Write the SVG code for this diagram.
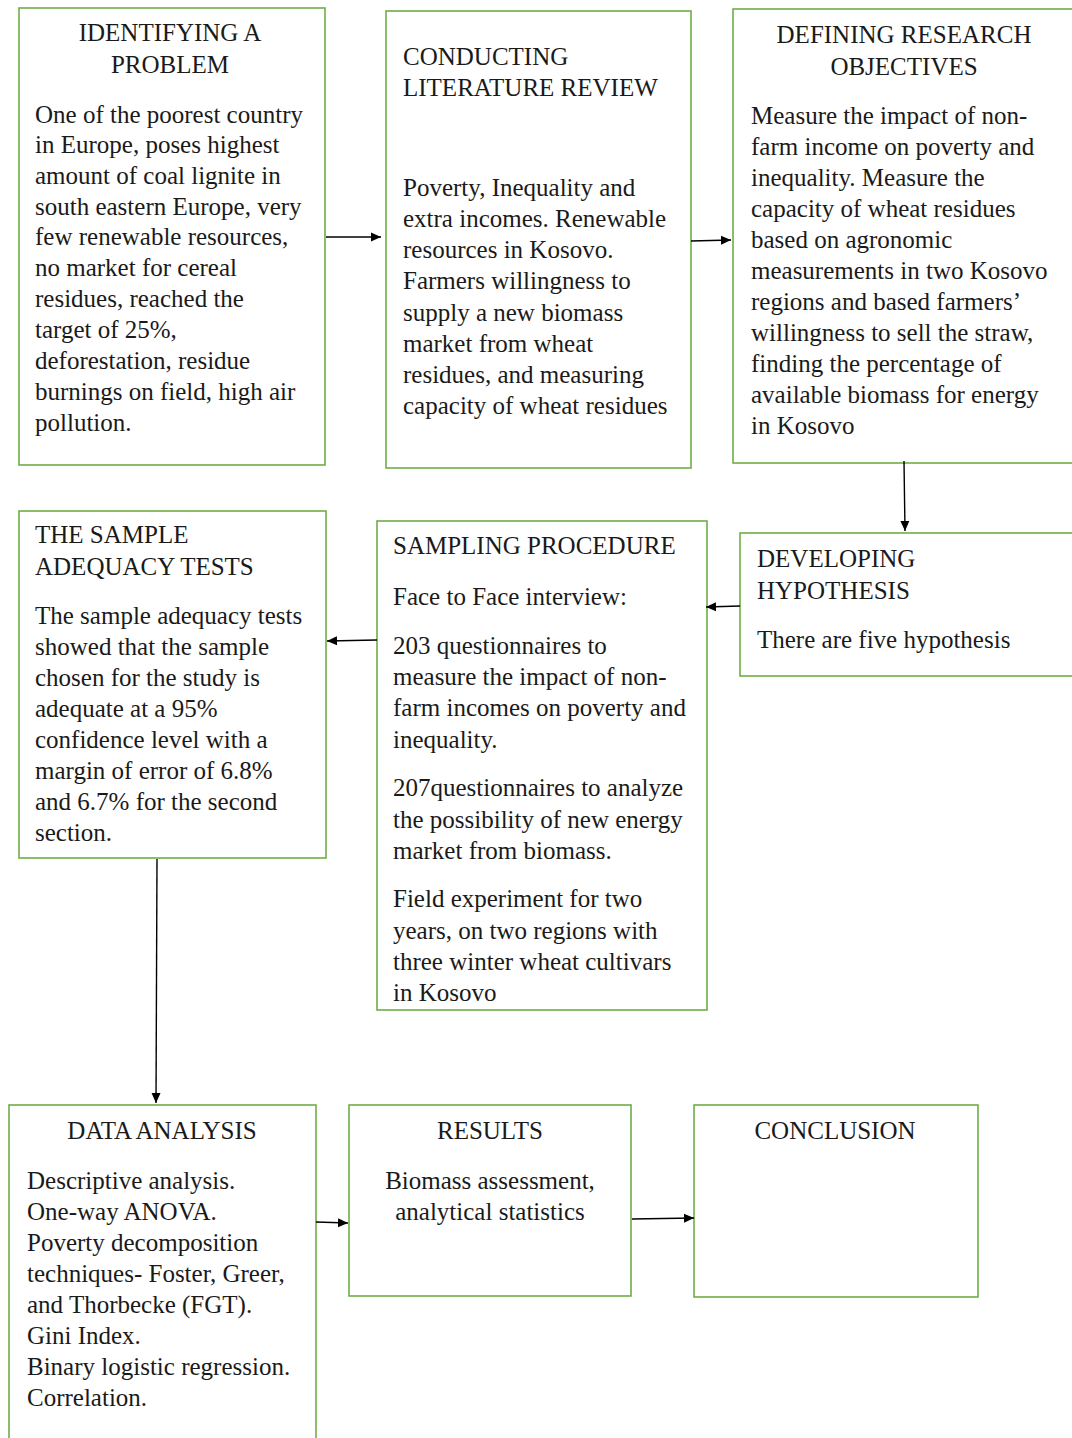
<svg xmlns="http://www.w3.org/2000/svg" width="1072" height="1438" viewBox="0 0 1072 1438">
<style>
.box{fill:#fff;stroke:#70AD47;stroke-width:1.6}
text{font-family:'Liberation Serif',Tinos,'Times New Roman','DejaVu Serif',serif;font-size:25px;fill:#1a1a1a}
.c{text-anchor:middle}
.conn line{stroke:#000;stroke-width:1.4}
</style>
<defs>
<marker id="ah" viewBox="0 0 10 10" refX="10" refY="5" markerWidth="10" markerHeight="10" markerUnits="userSpaceOnUse" orient="auto">
<path d="M0,0.5 L10,5 L0,9.5 Z" fill="#000"/>
</marker>
</defs>
<rect width="1072" height="1438" fill="#fff"/>

<g id="identifying">
<rect class="box" x="19" y="8" width="306" height="457"/>
<text class="c" x="170" y="41">IDENTIFYING A</text>
<text class="c" x="170" y="73">PROBLEM</text>
<text x="35" y="123">One of the poorest country</text>
<text x="35" y="153">in Europe, poses highest</text>
<text x="35" y="184">amount of coal lignite in</text>
<text x="35" y="215">south eastern Europe, very</text>
<text x="35" y="245">few renewable resources,</text>
<text x="35" y="276">no market for cereal</text>
<text x="35" y="307">residues, reached the</text>
<text x="35" y="338">target of 25%,</text>
<text x="35" y="369">deforestation, residue</text>
<text x="35" y="400">burnings on field, high air</text>
<text x="35" y="431">pollution.</text>
</g>

<g id="literature">
<rect class="box" x="386" y="11" width="305" height="457"/>
<text x="403" y="65">CONDUCTING</text>
<text x="403" y="96">LITERATURE REVIEW</text>
<text x="403" y="196">Poverty, Inequality and</text>
<text x="403" y="227">extra incomes. Renewable</text>
<text x="403" y="258">resources in Kosovo.</text>
<text x="403" y="289">Farmers willingness to</text>
<text x="403" y="321">supply a new biomass</text>
<text x="403" y="352">market from wheat</text>
<text x="403" y="383">residues, and measuring</text>
<text x="403" y="414">capacity of wheat residues</text>
</g>

<g id="objectives">
<rect class="box" x="733" y="9" width="350" height="454"/>
<text class="c" x="904" y="43">DEFINING RESEARCH</text>
<text class="c" x="904" y="75">OBJECTIVES</text>
<text x="751" y="124">Measure the impact of non-</text>
<text x="751" y="155">farm income on poverty and</text>
<text x="751" y="186">inequality. Measure the</text>
<text x="751" y="217">capacity of wheat residues</text>
<text x="751" y="248">based on agronomic</text>
<text x="751" y="279">measurements in two Kosovo</text>
<text x="751" y="310">regions and based farmers’</text>
<text x="751" y="341">willingness to sell the straw,</text>
<text x="751" y="372">finding the percentage of</text>
<text x="751" y="403">available biomass for energy</text>
<text x="751" y="434">in Kosovo</text>
</g>

<g id="hypothesis">
<rect class="box" x="740" y="533" width="345" height="143"/>
<text x="757" y="567">DEVELOPING</text>
<text x="757" y="599">HYPOTHESIS</text>
<text x="757" y="648">There are five hypothesis</text>
</g>

<g id="sampling">
<rect class="box" x="377" y="521" width="330" height="489"/>
<text x="393" y="554">SAMPLING PROCEDURE</text>
<text x="393" y="605">Face to Face interview:</text>
<text x="393" y="654">203 questionnaires to</text>
<text x="393" y="685">measure the impact of non-</text>
<text x="393" y="716">farm incomes on poverty and</text>
<text x="393" y="748">inequality.</text>
<text x="393" y="796">207questionnaires to analyze</text>
<text x="393" y="828">the possibility of new energy</text>
<text x="393" y="859">market from biomass.</text>
<text x="393" y="907">Field experiment for two</text>
<text x="393" y="939">years, on two regions with</text>
<text x="393" y="970">three winter wheat cultivars</text>
<text x="393" y="1001">in Kosovo</text>
</g>

<g id="adequacy">
<rect class="box" x="19" y="511" width="307" height="347"/>
<text x="35" y="543">THE SAMPLE</text>
<text x="35" y="575">ADEQUACY TESTS</text>
<text x="35" y="624">The sample adequacy tests</text>
<text x="35" y="655">showed that the sample</text>
<text x="35" y="686">chosen for the study is</text>
<text x="35" y="717">adequate at a 95%</text>
<text x="35" y="748">confidence level with a</text>
<text x="35" y="779">margin of error of 6.8%</text>
<text x="35" y="810">and 6.7% for the second</text>
<text x="35" y="841">section.</text>
</g>

<g id="analysis">
<rect class="box" x="9" y="1105" width="307" height="345"/>
<text class="c" x="162" y="1139">DATA ANALYSIS</text>
<text x="27" y="1189">Descriptive analysis.</text>
<text x="27" y="1220">One-way ANOVA.</text>
<text x="27" y="1251">Poverty decomposition</text>
<text x="27" y="1282">techniques- Foster, Greer,</text>
<text x="27" y="1313">and Thorbecke (FGT).</text>
<text x="27" y="1344">Gini Index.</text>
<text x="27" y="1375">Binary logistic regression.</text>
<text x="27" y="1406">Correlation.</text>
</g>

<g id="results">
<rect class="box" x="349" y="1105" width="282" height="191"/>
<text class="c" x="490" y="1139">RESULTS</text>
<text class="c" x="490" y="1189">Biomass assessment,</text>
<text class="c" x="490" y="1220">analytical statistics</text>
</g>

<g id="conclusion">
<rect class="box" x="694" y="1105" width="284" height="192"/>
<text class="c" x="835" y="1139">CONCLUSION</text>
</g>

<g id="connectors" class="conn">
<line x1="326" y1="237" x2="381" y2="237" marker-end="url(#ah)"/>
<line x1="691" y1="241" x2="731" y2="240" marker-end="url(#ah)"/>
<line x1="904" y1="461" x2="905" y2="531" marker-end="url(#ah)"/>
<line x1="740" y1="606" x2="706" y2="607" marker-end="url(#ah)"/>
<line x1="377" y1="640" x2="327" y2="641" marker-end="url(#ah)"/>
<line x1="157" y1="859" x2="156" y2="1103" marker-end="url(#ah)"/>
<line x1="316" y1="1222" x2="348" y2="1223" marker-end="url(#ah)"/>
<line x1="632" y1="1219" x2="694" y2="1218" marker-end="url(#ah)"/>
</g>
</svg>
